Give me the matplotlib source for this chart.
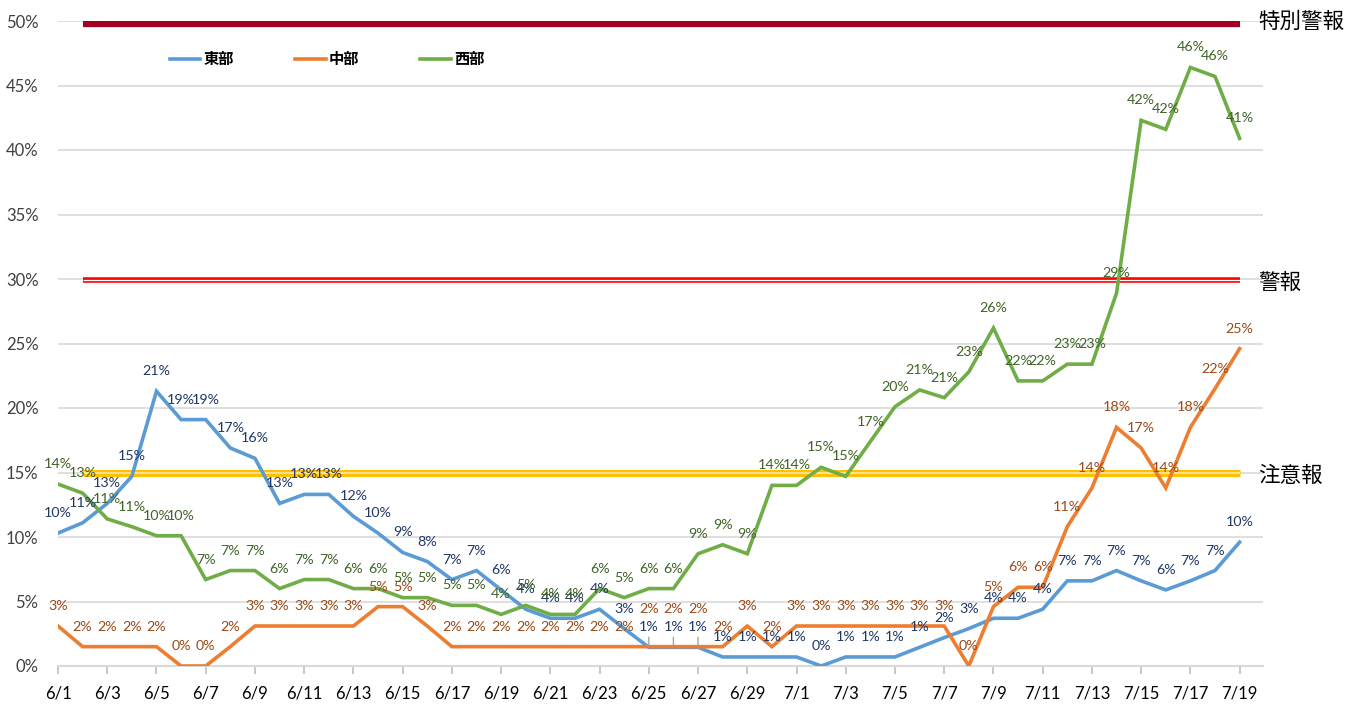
import matplotlib
matplotlib.use("Agg")
import matplotlib.pyplot as plt
import numpy as np

dates = ["6/1","6/2","6/3","6/4","6/5","6/6","6/7","6/8","6/9","6/10","6/11","6/12","6/13","6/14","6/15",
         "6/16","6/17","6/18","6/19","6/20","6/21","6/22","6/23","6/24","6/25","6/26","6/27","6/28","6/29","6/30",
         "7/1","7/2","7/3","7/4","7/5","7/6","7/7","7/8","7/9","7/10","7/11","7/12","7/13","7/14","7/15","7/16",
         "7/17","7/18","7/19"]

east = [10.3, 11.1, 12.6, 14.7, 21.3, 19.1, 19.1, 16.9, 16.1, 12.6, 13.3, 13.3, 11.6, 10.3, 8.8,
        8.1, 6.7, 7.4, 5.9, 4.4, 3.7, 3.7, 4.4, 2.9, 1.45, 1.45, 1.45, 0.7, 0.7, 0.7,
        0.7, 0.0, 0.7, 0.7, 0.7, 1.45, 2.2, 2.9, 3.7, 3.7, 4.4, 6.6, 6.6, 7.4, 6.6, 5.9,
        6.6, 7.4, 9.6]
central = [3.1, 1.5, 1.5, 1.5, 1.5, 0.0, 0.0, 1.5, 3.1, 3.1, 3.1, 3.1, 3.1, 4.6, 4.6,
           3.1, 1.5, 1.5, 1.5, 1.5, 1.5, 1.5, 1.5, 1.5, 1.5, 1.5, 1.5, 1.5, 3.1, 1.5,
           3.1, 3.1, 3.1, 3.1, 3.1, 3.1, 3.1, 0.0, 4.6, 6.1, 6.1, 10.8, 13.8, 18.5, 16.9, 13.8,
           18.5, 21.5, 24.6]
west = [14.1, 13.4, 11.4, 10.8, 10.1, 10.1, 6.7, 7.4, 7.4, 6.0, 6.7, 6.7, 6.0, 6.0, 5.3,
        5.3, 4.7, 4.7, 4.0, 4.7, 4.0, 4.0, 6.0, 5.3, 6.0, 6.0, 8.7, 9.4, 8.7, 14.0,
        14.0, 15.4, 14.7, 17.4, 20.1, 21.4, 20.8, 22.8, 26.2, 22.1, 22.1, 23.4, 23.4, 28.9, 42.3, 41.6,
        46.4, 45.7, 40.9]

series_names = ["東部", "中部", "西部"]
thresholds = [49.75, 29.9, 15.0]
threshold_names = ["特別警報", "警報", "注意報"]

JP = ["Noto Sans CJK JP", "DejaVu Sans"]
NUM = ["Lato", "DejaVu Sans"]

fig = plt.figure(figsize=(13.61, 7.04), dpi=100)
ax = fig.add_axes([58/1361, 1-666/704, (1263-58)/1361, (666-21)/704])

x = np.arange(len(dates))
ax.set_xlim(0, 48.95)
ax.set_ylim(0, 50)

# grid
ax.set_yticks(np.arange(0, 51, 5))
ax.set_yticklabels([f"{v}%" for v in range(0, 51, 5)], fontsize=12, family=NUM, color="#404040")
ax.yaxis.grid(True, color="#D9D9D9", linewidth=1.2, zorder=0)
ax.tick_params(axis="y", length=0, pad=14)
ax.set_xticks(x[::2])
ax.set_xticklabels(dates[::2], fontsize=12, family=NUM, color="#000000")
ax.tick_params(axis="x", length=6, color="#BFBFBF", width=1.2, pad=8)
for s in ["top", "right", "left"]:
    ax.spines[s].set_visible(False)
ax.spines["bottom"].set_color("#D9D9D9")
ax.spines["bottom"].set_linewidth(1.5)

# threshold lines (from 6/2 to 7/19)
xs = [1, 48]
ax.plot(xs, [thresholds[0]]*2, color="#A50021", lw=4.5, solid_capstyle="butt", zorder=2)
ax.plot(xs, [thresholds[1]]*2, color="#FF0000", lw=4.0, solid_capstyle="butt", zorder=2)
ax.plot(xs, [thresholds[1]]*2, color="#FFFFFF", lw=0.9, solid_capstyle="butt", zorder=2)
ax.plot(xs, [thresholds[2]]*2, color="#FFC000", lw=5.0, solid_capstyle="butt", zorder=2)
ax.plot(xs, [thresholds[2]]*2, color="#FFE9A8", lw=1.2, solid_capstyle="butt", zorder=2)
tx = (1258-58)/(1263-58)
for val, name in zip([49.95, 29.7, 14.7], threshold_names):
    ax.text(tx, val, name, transform=ax.get_yaxis_transform(), fontsize=15.5, family=JP,
            va="center", ha="left", color="#000000", clip_on=False)

colors = ["#5B9BD5", "#ED7D31", "#70AD47"]
label_colors = ["#1F3864", "#9A4A17", "#3F6426"]
data = [east, central, west]
lines = []
for vals, c, name in zip(data, colors, series_names):
    ln, = ax.plot(x, vals, color=c, lw=2.6, label=name, zorder=4, solid_joinstyle="miter")
    lines.append(ln)

# data labels
for si, (vals, lc) in enumerate(zip(data, label_colors)):
    for i, v in enumerate(vals):
        dy = 20
        if si == 1 and i in (24, 25, 26):
            dy = 38
        ax.annotate(f"{int(round(v))}%", (x[i], v), xytext=(0, dy), textcoords="offset pixels",
                    ha="center", va="center", fontsize=10.3, family=NUM, color=lc, zorder=6)
        if si == 0 and i in (24, 25, 26):
            ax.annotate("", (x[i], v), xytext=(x[i], v + 1.0), textcoords="data",
                        arrowprops=dict(arrowstyle="-", color="#A6A6A6", lw=1.0), zorder=5)

leg = ax.legend(handles=lines, loc="upper left", bbox_to_anchor=(98/1205, 0.975), ncol=3,
                frameon=False, prop={"family": JP, "size": 11, "weight": "bold"},
                handlelength=2.0, columnspacing=4.0, handletextpad=0.2)

fig.savefig("out.png", dpi=100)
